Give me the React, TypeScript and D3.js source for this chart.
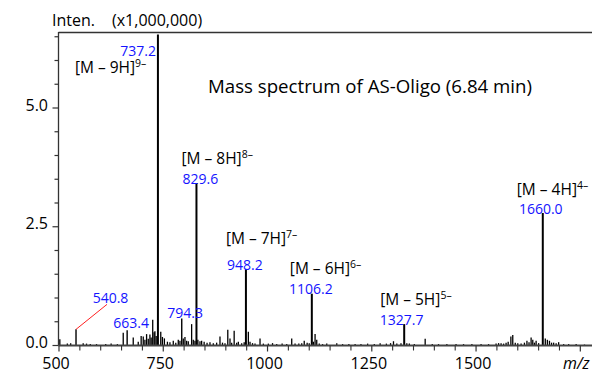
import React from 'react'
import * as d3 from 'd3'

// charge-state peaks (m/z, intensity x1,000,000)
const ionMz = [737.2, 829.6, 948.2, 1106.2, 1327.7, 1660.0]
const ionIntensity = [6.55, 3.42, 1.61, 1.09, 0.45, 2.79]
const ionCharge = [9, 8, 7, 6, 5, 4]

// other labelled peaks
const minorMz = [540.8, 663.4, 794.3]
const minorIntensity = [0.34, 0.32, 0.57]

// unlabelled background peaks
const noiseMz = [
  502, 520, 528, 558, 566, 575, 590, 612, 625, 640, 654, 678, 690, 697, 702, 706,
  710, 714, 718, 721, 724.7, 728, 730, 733, 744, 748, 752.7, 760, 766, 774, 780,
  786, 790, 798, 802, 806, 810, 818, 822, 826, 833, 838, 842, 848, 855, 862, 870,
  878, 886, 892, 898, 904.7, 910, 914, 920, 926, 930, 938, 944, 954, 958, 964, 970,
  982, 990, 1002, 1012, 1022, 1035, 1046, 1058, 1066, 1075, 1082, 1088, 1095, 1100,
  1110, 1114, 1118, 1124, 1132, 1142, 1166, 1180, 1195, 1210, 1224, 1240, 1256,
  1270, 1285, 1295, 1302, 1310, 1320, 1334, 1340, 1352, 1378, 1395, 1410, 1430,
  1452, 1470, 1490, 1512, 1530, 1548, 1554, 1560, 1566, 1572, 1577, 1583.5, 1588,
  1594, 1600, 1608, 1616, 1622, 1627, 1632, 1636, 1640, 1644, 1650, 1666, 1671,
  1676, 1681, 1686, 1692, 1698, 1710, 1722, 1740, 1760
]
const noiseIntensity = [
  0.13, 0.04, 0.05, 0.05, 0.04, 0.03, 0.03, 0.03, 0.04, 0.03, 0.27, 0.17, 0.08, 0.2, 0.19, 0.12,
  0.24, 0.14, 0.23, 0.17, 0.54, 0.28, 0.3, 0.2, 0.29, 0.18, 0.15, 0.08, 0.07, 0.1, 0.06,
  0.12, 0.1, 0.15, 0.18, 0.1, 0.09, 0.45, 0.12, 0.1, 0.12, 0.09, 0.1, 0.08, 0.06, 0.07, 0.05,
  0.06, 0.19, 0.06, 0.05, 0.33, 0.15, 0.06, 0.31, 0.06, 0.08, 0.05, 0.07, 0.29, 0.08, 0.05, 0.04,
  0.15, 0.04, 0.04, 0.05, 0.03, 0.04, 0.03, 0.15, 0.04, 0.04, 0.05, 0.1, 0.06, 0.05,
  0.08, 0.24, 0.12, 0.04, 0.03, 0.04, 0.05, 0.03, 0.03, 0.03, 0.03, 0.04, 0.03,
  0.05, 0.04, 0.05, 0.09, 0.04, 0.05, 0.05, 0.04, 0.03, 0.14, 0.03, 0.03, 0.03,
  0.03, 0.03, 0.03, 0.03, 0.03, 0.04, 0.05, 0.05, 0.04, 0.06, 0.08, 0.19, 0.22,
  0.06, 0.05, 0.04, 0.06, 0.1, 0.07, 0.17, 0.12, 0.06, 0.1, 0.05, 0.15, 0.12,
  0.1, 0.06, 0.06, 0.05, 0.07, 0.03, 0.03, 0.03, 0.02
]

const xTickLabels = [500, 750, 1000, 1250, 1500]
const yTickLabels = [0, 2.5, 5.0]

const FONT = '"Open Sans", sans-serif'
const BLUE = '#1414ff'

export default function App() {
  const width = 592
  const height = 371
  const left = 58.5
  const top = 32
  const bottom = 345.5

  const x = d3.scaleLinear().domain([500, 1778]).range([59, 592])
  const y = d3.scaleLinear().domain([0, 6.6]).range([bottom, top])

  const majorX = d3.range(500, 1751, 250)
  const minorX = d3.range(500, 1778, 50).filter((v) => v % 250 !== 0)
  const minorY = d3.range(0, 6.6, 0.5).filter((v) => v % 2.5 !== 0)

  // label offsets relative to each peak top
  const ionLayout = [
    { anchor: 'end', vdx: -2, vdy: 22, idx: -83, idy: 39 },
    { anchor: 'middle', vdx: 4, vdy: 1, idx: -15, idy: -19 },
    { anchor: 'middle', vdx: -1, vdy: 0.5, idx: -20, idy: -25 },
    { anchor: 'middle', vdx: -1, vdy: 0, idx: -22, idy: -20 },
    { anchor: 'middle', vdx: -2.5, vdy: 1, idx: -24, idy: -19 },
    { anchor: 'middle', vdx: -2, vdy: 1.5, idx: -26, idy: -18 },
  ]
  const minorLayout = [
    { dx: 34.5, dy: -26, leader: true },
    { dx: 4, dy: -2, leader: false },
    { dx: 3.3, dy: 0, leader: false },
  ]

  const peak = (mz: number, v: number, w: number, key: string) => (
    <line key={key} x1={x(mz)} x2={x(mz)} y1={bottom} y2={y(v)} stroke="#000" strokeWidth={w} />
  )

  return (
    <svg width={width} height={height} style={{ position: 'absolute', left: 0, top: 0 }} fontFamily={FONT}>
      <rect width={width} height={height} fill="#fff" />

      {/* header */}
      <text x={52} y={26} fontSize={16}>Inten.</text>
      <text x={112} y={26} fontSize={16}>(x1,000,000)</text>
      <text x={208} y={93} fontSize={18} textLength={324} lengthAdjust="spacingAndGlyphs">
        Mass spectrum of AS-Oligo (6.84 min)
      </text>

      {/* frame */}
      <line x1={left} x2={width} y1={top + 0.5} y2={top + 0.5} stroke="#333" strokeWidth={1.3} />
      <line x1={left} x2={left} y1={top} y2={bottom} stroke="#333" strokeWidth={1.3} />

      {/* y axis */}
      {yTickLabels.map((v) => (
        <g key={'y' + v}>
          <line x1={left - 6} x2={left} y1={y(v)} y2={y(v)} stroke="#333" strokeWidth={1.2} />
          <text x={48} y={y(v) + 2.5} fontSize={16} textAnchor="end">{v.toFixed(1)}</text>
        </g>
      ))}
      {minorY.map((v) => (
        <line key={'ym' + v} x1={left - 4} x2={left} y1={y(v)} y2={y(v)} stroke="#333" strokeWidth={1.2} />
      ))}

      {/* spectrum */}
      {noiseMz.map((mz, i) => peak(mz, noiseIntensity[i], 1.3, 'n' + i))}
      {minorMz.map((mz, i) => peak(mz, minorIntensity[i], 1.4, 'm' + i))}
      {ionMz.map((mz, i) => peak(mz, ionIntensity[i], 2, 'p' + i))}

      {/* x axis */}
      <line x1={left} x2={width} y1={bottom} y2={bottom} stroke="#444" strokeWidth={2} />
      {majorX.map((v) => (
        <line key={'x' + v} x1={x(v)} x2={x(v)} y1={bottom} y2={bottom + 6} stroke="#333" strokeWidth={1.2} />
      ))}
      {minorX.map((v) => (
        <line key={'xm' + v} x1={x(v)} x2={x(v)} y1={bottom} y2={bottom + 5} stroke="#333" strokeWidth={1.1} />
      ))}
      {xTickLabels.map((v) => (
        <text key={'xl' + v} x={x(v) - 3} y={368.5} fontSize={16} textAnchor="middle">{v}</text>
      ))}
      <text x={563} y={368.5} fontSize={16} fontStyle="italic">m/z</text>

      {/* charge-state annotations */}
      {ionMz.map((mz, i) => {
        const l = ionLayout[i]
        const px = x(mz)
        const py = y(ionIntensity[i])
        return (
          <g key={'a' + i}>
            <text x={px + l.vdx} y={py + l.vdy} fontSize={14} fill={BLUE} textAnchor={l.anchor}>
              {mz.toFixed(1)}
            </text>
            <text x={px + l.idx} y={py + l.idy} fontSize={15.5}>
              {`[M – ${ionCharge[i]}H]`}
              <tspan dy={-6} fontSize={10.5}>{`${ionCharge[i]}–`}</tspan>
            </text>
          </g>
        )
      })}

      {/* small peak annotations */}
      {minorMz.map((mz, i) => {
        const l = minorLayout[i]
        const px = x(mz)
        const py = y(minorIntensity[i])
        return (
          <g key={'b' + i}>
            {l.leader && (
              <line x1={px} y1={py} x2={px + 31} y2={py + l.dy + 1} stroke="#ff2020" strokeWidth={1} />
            )}
            <text x={px + l.dx} y={py + l.dy} fontSize={14} fill={BLUE} textAnchor="middle">
              {mz.toFixed(1)}
            </text>
          </g>
        )
      })}
    </svg>
  )
}
